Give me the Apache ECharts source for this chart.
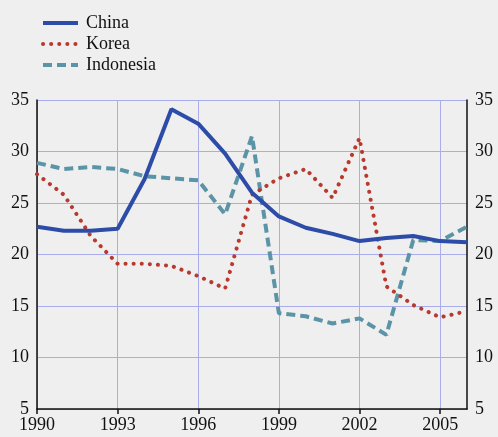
<!DOCTYPE html>
<html>
<head>
<meta charset="utf-8">
<script src="https://cdn.jsdelivr.net/npm/echarts@6/dist/echarts.min.js"></script>
<style>
  html, body { margin: 0; padding: 0; background: #efefef; }
  #chart { width: 498px; height: 437px; }
</style>
</head>
<body>
<div id="chart"></div>
<script>
// years on the x axis
const years = ["1990", "1991", "1992", "1993", "1994", "1995", "1996", "1997", "1998",
  "1999", "2000", "2001", "2002", "2003", "2004", "2005", "2006"];

// series values
const china = [22.7, 22.3, 22.3, 22.5, 27.3, 34.1, 32.7, 29.8, 26.0, 23.7, 22.6, 22.0, 21.3, 21.6, 21.8, 21.3, 21.2];
const korea = [27.8, 25.8, 21.8, 19.1, 19.1, 18.9, 17.9, 16.7, 25.8, 27.4, 28.3, 25.5, 31.3, 16.9, 15.1, 13.9, 14.5];
const indonesia = [28.9, 28.3, 28.5, 28.3, 27.6, 27.4, 27.2, 23.9, 31.5, 14.3, 14.0, 13.3, 13.8, 12.2, 21.4, 21.3, 22.7];

const yMin = 5;
const yMax = 35;
const yStep = 5;

const font = "Liberation Serif";
const gridColor = "#a9adec";

const myChart = echarts.init(document.getElementById("chart"));

const valueAxis = (pos) => ({
  type: "value",
  position: pos,
  min: yMin,
  max: yMax,
  interval: yStep,
  axisLine: { show: true, lineStyle: { color: "#111", width: 1.5 } },
  axisTick: { show: false },
  splitLine: { show: pos === "left", lineStyle: { color: gridColor, width: 1 } },
  axisLabel: { color: "#111", fontFamily: font, fontSize: 18, margin: 8 },
});

const option = {
  backgroundColor: "#efefef",
  animation: false,
  legend: {
    orient: "vertical",
    left: 36,
    top: 9,
    itemWidth: 35,
    itemHeight: 10,
    itemGap: 3,
    itemStyle: { opacity: 0 }, // hide the symbol, keep only the line in the legend
    lineStyle: { width: 4 },
    textStyle: { fontFamily: font, fontSize: 18, color: "#111", padding: [0, 0, 0, 3] },
    data: ["China", "Korea", "Indonesia"],
  },
  grid: { left: 37, right: 31, top: 100, bottom: 28 },
  xAxis: {
    type: "category",
    data: years,
    boundaryGap: false,
    axisLine: { lineStyle: { color: "#111", width: 1.5 } },
    axisTick: { show: true, interval: 2, length: 5, lineStyle: { color: "#111", width: 1.5 } },
    axisLabel: { interval: 2, color: "#111", fontFamily: font, fontSize: 18, margin: 7 },
    splitLine: { show: true, interval: 2, lineStyle: { color: gridColor, width: 1 } },
  },
  yAxis: [valueAxis("left"), valueAxis("right")],
  series: [
    {
      name: "Indonesia",
      type: "line",
      data: indonesia,
      symbol: "none",
      z: 2,
      color: "#5b94a6",
      itemStyle: { opacity: 0 },
      lineStyle: { color: "#5b94a6", width: 4, type: [9, 5] },
    },
    {
      name: "Korea",
      type: "line",
      data: korea,
      symbol: "none",
      z: 3,
      color: "#b83a2e",
      itemStyle: { opacity: 0 },
      lineStyle: { color: "#b83a2e", width: 4, type: [0.1, 8], cap: "round" },
    },
    {
      name: "China",
      type: "line",
      data: china,
      symbol: "none",
      z: 4,
      color: "#2c4ca8",
      itemStyle: { opacity: 0 },
      lineStyle: { color: "#2c4ca8", width: 4 },
    },
  ],
};

myChart.setOption(option);
</script>
</body>
</html>
